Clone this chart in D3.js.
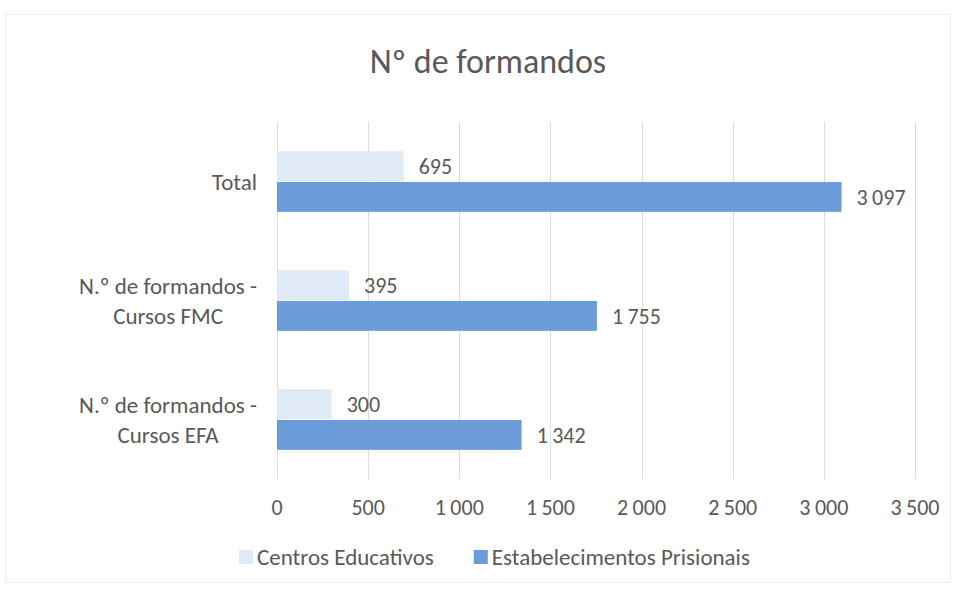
<!DOCTYPE html>
<html>
<head>
<meta charset="utf-8">
<script src="https://cdn.jsdelivr.net/npm/d3@7"></script>
<style>
  body { margin: 0; background: #fff; }
  svg { font-family: Carlito, Lato, "Open Sans", sans-serif; }
</style>
</head>
<body>
<svg id="chart" width="957" height="590"></svg>
<script>
'use strict';

// data
const categories = [['Total'], ['N.º de formandos -', 'Cursos FMC'], ['N.º de formandos -', 'Cursos EFA']];
const seriesNames = ['Centros Educativos', 'Estabelecimentos Prisionais'];
const centrosEducativos = [695, 395, 300];
const estabelecimentosPrisionais = [3097, 1755, 1342];
const xTicks = [0, 500, 1000, 1500, 2000, 2500, 3000, 3500];

const COLORS = ['#e0eaf7', '#6b9bd8'];
const TEXT = '#595959';

const svg = d3.select('#chart');
const locale = d3.formatLocale({ decimal: ',', thousands: '\u2009', grouping: [3], currency: ['', '€'] });
const fmt = locale.format(',d');

const margin = { left: 277, right: 42, top: 122, bottom: 111 };
const width = 957 - margin.left - margin.right,
	height = 590 - margin.top - margin.bottom;

// faint chart border
svg.append('rect')
	.attr('x', 5.5).attr('y', 14.5).attr('width', 945).attr('height', 568)
	.attr('fill', 'none').attr('stroke', '#ececec');

svg.append('text')
	.attr('x', 488).attr('y', 73)
	.attr('text-anchor', 'middle')
	.attr('fill', TEXT)
	.style('font-size', '34px')
	.text('Nº de formandos');

const x = d3.scaleLinear().domain([0, 3500]).range([0, width]);
const y = d3.scaleBand().domain(d3.range(categories.length)).range([0, height]).paddingInner(0.49).paddingOuter(0.245);
const sub = d3.scaleBand().domain([0, 1]).range([0, y.bandwidth()]).paddingInner(0.03);

const g = svg.append('g').attr('transform', `translate(${margin.left},${margin.top})`);

// gridlines
g.selectAll('.grid').data(xTicks).enter().append('line')
	.attr('class', 'grid')
	.attr('x1', d => Math.round(x(d)) + 0.5).attr('x2', d => Math.round(x(d)) + 0.5)
	.attr('y1', 0).attr('y2', height)
	.attr('stroke', '#dcdcdc').attr('stroke-width', 1);

// x tick labels
g.selectAll('.xlab').data(xTicks).enter().append('text')
	.attr('class', 'xlab')
	.attr('x', d => x(d)).attr('y', height + 36)
	.attr('text-anchor', 'middle')
	.attr('fill', TEXT)
	.style('font-size', '22px')
	.text(d => fmt(d));

const rows = categories.map((c, i) => ({ i, vals: [centrosEducativos[i], estabelecimentosPrisionais[i]] }));

const row = g.selectAll('.row').data(rows).enter().append('g')
	.attr('class', 'row')
	.attr('transform', d => `translate(0,${y(d.i)})`);

row.selectAll('rect').data(d => d.vals).enter().append('rect')
	.attr('x', 0)
	.attr('y', (d, k) => sub(k))
	.attr('width', d => x(d))
	.attr('height', sub.bandwidth())
	.attr('fill', (d, k) => COLORS[k]);

row.selectAll('.val').data(d => d.vals).enter().append('text')
	.attr('class', 'val')
	.attr('x', d => x(d) + 15)
	.attr('y', (d, k) => sub(k) + sub.bandwidth() / 2)
	.attr('dy', '0.35em')
	.attr('fill', TEXT)
	.style('font-size', '22px')
	.text(d => fmt(d));

// category labels: block right-aligned, lines centred in the block
const labelRight = margin.left - 20;
categories.forEach((lines, i) => {
	const t = svg.append('text')
		.attr('fill', TEXT)
		.attr('text-anchor', 'middle')
		.style('font-size', '23px');
	const cy = margin.top + y(i) + y.bandwidth() / 2;
	const lh = 30;
	lines.forEach((s, j) => {
		t.append('tspan')
			.attr('y', cy + (j - (lines.length - 1) / 2) * lh)
			.attr('dy', '0.35em')
			.text(s);
	});
	const w = d3.max(t.selectAll('tspan').nodes(), n => n.getComputedTextLength());
	t.selectAll('tspan').attr('x', labelRight - w / 2);
});

// legend
const legend = svg.append('g').attr('transform', 'translate(239,557)');
let lx = 0;
seriesNames.forEach((name, k) => {
	legend.append('rect')
		.attr('x', lx).attr('y', -7).attr('width', 14).attr('height', 14)
		.attr('fill', COLORS[k]);
	const t = legend.append('text')
		.attr('x', lx + 18).attr('y', 0).attr('dy', '0.35em')
		.attr('fill', TEXT)
		.style('font-size', '23px')
		.text(name);
	lx += 18 + t.node().getComputedTextLength() + 40;
});
</script>
</body>
</html>
